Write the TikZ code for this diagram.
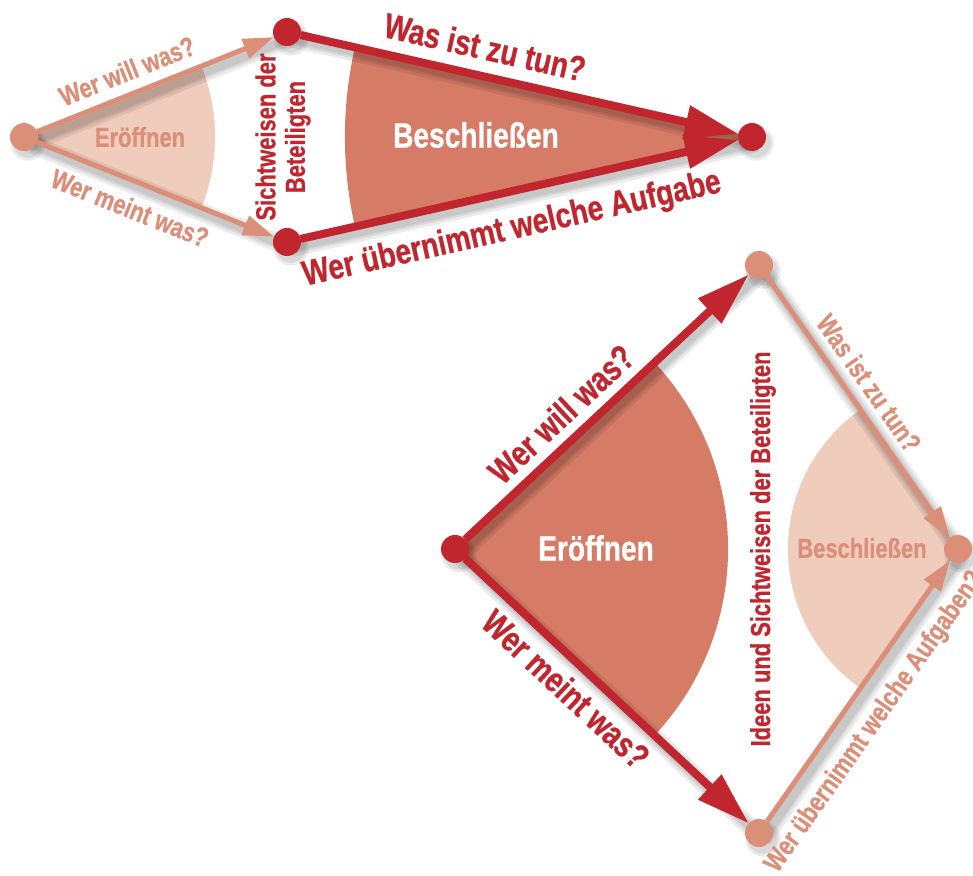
\documentclass[tikz,border=0pt]{standalone}
\usepackage{fontspec}
\newfontfamily\cf{Liberation Sans}[FakeStretch=0.8,FakeBold=0.7]
\usetikzlibrary{arrows.meta}
\definecolor{dred}{HTML}{C1262E}
\definecolor{lsal}{HTML}{DB8F78}
\definecolor{lpink}{HTML}{F0CCBC}
\definecolor{msal}{HTML}{D67B66}
\pgfdeclarelayer{bg}
\pgfsetlayers{bg,main}
\begin{document}
\begin{tikzpicture}[x=0.025cm,y=0.025cm,
  dotd/.style={circle,fill=dred,minimum size=0.7cm,inner sep=0pt,outer sep=0pt},
  dotl/.style={circle,fill=lsal,minimum size=0.7cm,inner sep=0pt,outer sep=0pt},
  dline/.style={draw=dred,line width=5.7pt,-{Triangle[length=38pt,width=23pt]}},
  lline/.style={draw=lsal,line width=3.6pt,-{Triangle[length=22pt,width=14pt]}},
  shad/.style={draw=black,opacity=0.08,line width=#1},
  big/.style={font=\cf\bfseries\fontsize{25}{28}\selectfont},
  mid/.style={font=\cf\bfseries\fontsize{19.5}{21}\selectfont},
  ]
\useasboundingbox (0,0) rectangle (973,875);

% ---------- top diagram ----------
\node[dotl] (L1) at (24,738) {};
\node[dotd] (T1) at (287,843) {};
\node[dotd] (B1) at (287,633) {};
\node[dotd] (R1) at (752,738) {};

% ---------- bottom diagram ----------
\node[dotd] (L2) at (455,326) {};
\node[dotl] (T2) at (759,610) {};
\node[dotl] (B2) at (759,42) {};
\node[dotl] (R2) at (958,326) {};

\begin{pgfonlayer}{bg}
  % sectors
  \fill[lpink] (L1.center) -- ++(-21.8:4.775cm) arc[start angle=-21.8,end angle=21.8,radius=4.775cm] -- cycle;
  \fill[msal] (R1.center) -- ++(167.3:10.175cm) arc[start angle=167.3,end angle=192.7,radius=10.175cm] -- cycle;
  \fill[msal] (L2.center) -- ++(-43.05:6.825cm) arc[start angle=-43.05,end angle=43.05,radius=6.825cm] -- cycle;
  \fill[lpink] (R2.center) -- ++(125:4.25cm) arc[start angle=125,end angle=235,radius=4.25cm] -- cycle;
  % soft shadows
  \foreach \w in {13pt,9pt,6pt}{
    \draw[shad=\w] ([shift={(4,-6)}]L1.center) -- ([shift={(4,-6)}]T1.center);
    \draw[shad=\w] ([shift={(4,-6)}]L1.center) -- ([shift={(4,-6)}]B1.center);
    \draw[shad=\w] ([shift={(4,-6)}]T1.center) -- ([shift={(4,-6)}]R1.center);
    \draw[shad=\w] ([shift={(4,-6)}]B1.center) -- ([shift={(4,-6)}]R1.center);
    \draw[shad=\w] ([shift={(4,-6)}]L2.center) -- ([shift={(4,-6)}]T2.center);
    \draw[shad=\w] ([shift={(4,-6)}]L2.center) -- ([shift={(4,-6)}]B2.center);
    \draw[shad=\w] ([shift={(4,-6)}]T2.center) -- ([shift={(4,-6)}]R2.center);
    \draw[shad=\w] ([shift={(4,-6)}]B2.center) -- ([shift={(4,-6)}]R2.center);
  }
  \foreach \n in {L1,T1,B1,R1,L2,T2,B2,R2}{
    \fill[black,opacity=0.08] ([shift={(4,-6)}]\n.center) circle[radius=0.44cm];
    \fill[black,opacity=0.08] ([shift={(4,-6)}]\n.center) circle[radius=0.37cm];
  }
\end{pgfonlayer}

% connectors top
\draw[lline] (L1) -- (T1);
\draw[lline] (L1) -- (B1);
\draw[dline] (T1) -- (R1);
\draw[dline] (B1) -- (R1);
% connectors bottom
\draw[dline] (L2) -- (T2);
\draw[dline] (L2) -- (B2);
\draw[lline] (T2) -- (R2);
\draw[lline] (B2) -- (R2);

% texts top
\node[mid,text=lsal] (e1) at (140,738) {Eröffnen};
\node[mid,text=lsal,rotate=21.8] (w1) at (127,804) {Wer will was?};
\node[mid,text=lsal,rotate=-21.8] (m1) at (130,667) {Wer meint was?};
\node[mid,text=dred,rotate=90,align=center] (s1) at (283,738) {Sichtweisen der\\Beteiligten};
\node[big,text=white] (b1) at (476,740) {Beschließen};
\node[big,text=dred,rotate=-12.7] (q1) at (485,828) {Was ist zu tun?};
\node[big,text=dred,rotate=12.7] (a1) at (512,645) {Wer übernimmt welche Aufgabe};

% texts bottom
\node[big,text=white] (e2) at (596,327) {Eröffnen};
\node[big,text=dred,rotate=43.05] (w2) at (561,461) {Wer will was?};
\node[big,text=dred,rotate=-43.05] (m2) at (566,186) {Wer meint was?};
\node[mid,text=dred,rotate=90] (s2) at (763,326) {Ideen und Sichtweisen der Beteiligten};
\node[mid,text=lsal] (b2) at (862,327) {Beschließen};
\node[mid,text=lsal,rotate=-55] (q2) at (869,492) {Was ist zu tun?};
\node[mid,text=lsal,rotate=55] (a2) at (875,153) {Wer übernimmt welche Aufgaben?};
\end{tikzpicture}
\end{document}
